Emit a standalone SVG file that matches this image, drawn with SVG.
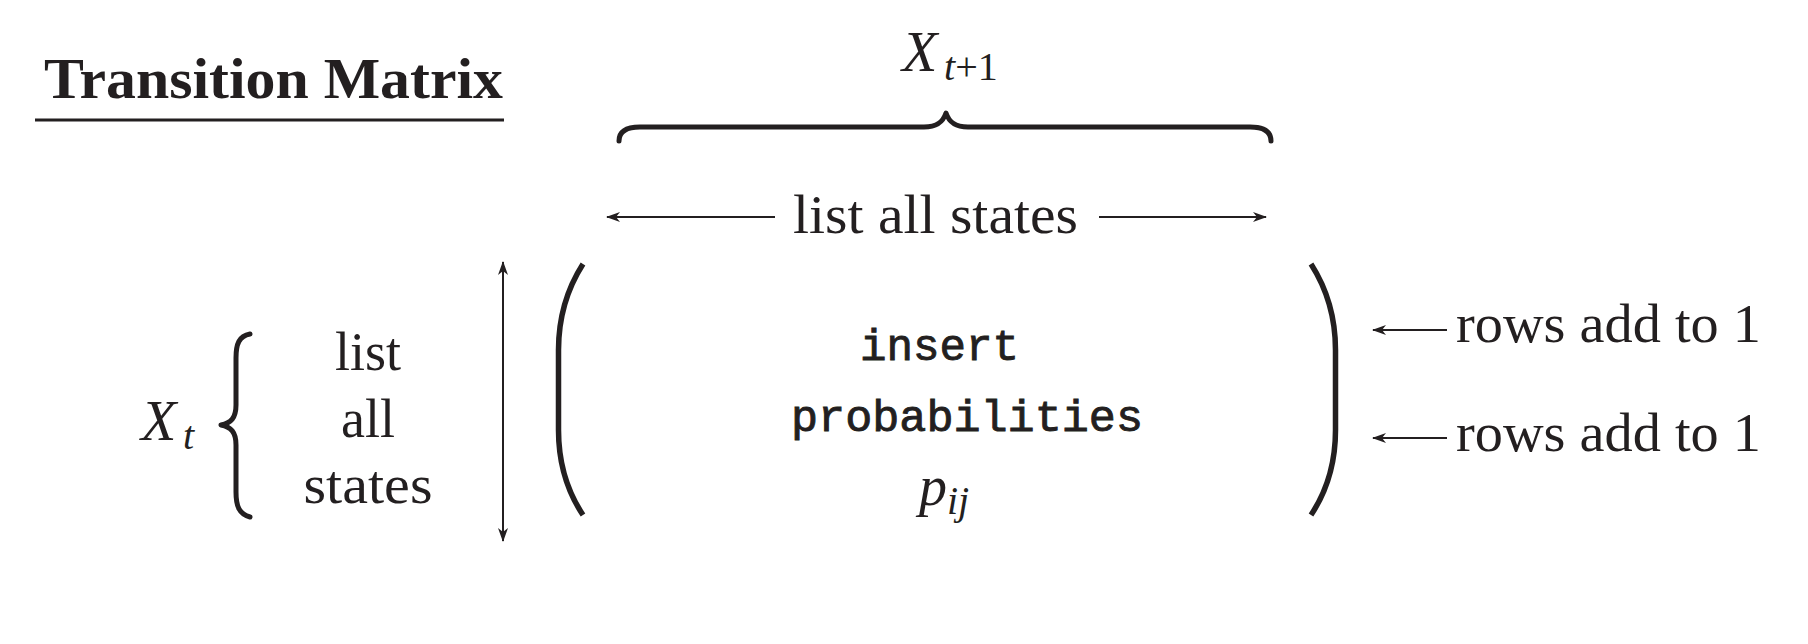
<svg xmlns="http://www.w3.org/2000/svg" width="1808" height="644" viewBox="0 0 1808 644">
<style>
.serif{font-family:"Liberation Serif","Times New Roman",serif;fill:#231f20}
.it{font-family:"Liberation Serif","Times New Roman",serif;font-style:italic;fill:#231f20}
.mono{font-family:"Liberation Mono","Courier New",monospace;fill:#231f20;stroke:#231f20;stroke-width:0.9}
.line{stroke:#231f20;stroke-width:2;fill:none}
.brace{stroke:#231f20;stroke-width:5;fill:none;stroke-linecap:round;stroke-linejoin:round}
.paren{stroke:#231f20;stroke-width:5.5;fill:none;stroke-linecap:butt}
</style>
<defs>
<marker id="ah" viewBox="0 0 14 10" refX="13" refY="5" markerWidth="14" markerHeight="10" markerUnits="userSpaceOnUse" orient="auto-start-reverse">
<path d="M0,0 L14,5 L0,10 L4,5 Z" fill="#231f20"/>
</marker>
</defs>
<rect width="1808" height="644" fill="#ffffff"/>
<g id="title">
<text class="serif" x="44" y="98" font-size="58" font-weight="bold" textLength="459" lengthAdjust="spacingAndGlyphs">Transition Matrix</text>
<line x1="35" y1="120" x2="504" y2="120" stroke="#231f20" stroke-width="3"/>
</g>
<g id="xt1">
<text class="it" x="902" y="71" font-size="58">X</text>
<text class="it" x="944" y="80" font-size="40">t<tspan font-style="normal">+1</tspan></text>
<path class="brace" d="M619,141 C619,131 627,127 640,127 L924,127 C937,127 943,122 946,113 C949,122 955,127 968,127 L1250,127 C1263,127 1271,131 1271,141"/>
</g>
<g id="xt">
<text class="it" x="141" y="440" font-size="58">X</text>
<text class="it" x="183" y="449" font-size="40">t</text>
<path class="brace" d="M250,334 C239,336 236,344 236,358 L236,405 C236,418 231,423 221,425 C231,427 236,432 236,445 L236,492 C236,506 239,514 250,517"/>
</g>
<g id="rowlabels">
<text class="serif" x="368" y="370" font-size="54" text-anchor="middle">list</text>
<text class="serif" x="368" y="437" font-size="54" text-anchor="middle">all</text>
<text class="serif" x="368" y="503" font-size="54" text-anchor="middle" textLength="129" lengthAdjust="spacingAndGlyphs">states</text>
</g>
<g id="collabel">
<text class="serif" x="793" y="233" font-size="54" textLength="285" lengthAdjust="spacingAndGlyphs">list all states</text>
</g>
<g id="matrix">
<path class="paren" d="M583,264 C567,289 558.5,318 558.5,350 L558.5,430 C558.5,462 567,491 583,515"/>
<path class="paren" d="M1311,264 C1327,289 1335.5,318 1335.5,350 L1335.5,430 C1335.5,462 1327,491 1311,515"/>
<text class="mono" x="860" y="360" font-size="45" textLength="159" lengthAdjust="spacingAndGlyphs">insert</text>
<text class="mono" x="791" y="431" font-size="45" textLength="352" lengthAdjust="spacingAndGlyphs">probabilities</text>
<text class="it" x="919" y="505" font-size="56">p</text>
<text class="it" x="947" y="514" font-size="40">ij</text>
</g>
<g id="rownotes">
<text class="serif" x="1456" y="342" font-size="54" textLength="305" lengthAdjust="spacingAndGlyphs">rows add to 1</text>
<text class="serif" x="1456" y="451" font-size="54" textLength="305" lengthAdjust="spacingAndGlyphs">rows add to 1</text>
</g>
<g id="connectors">
<line class="line" x1="775" y1="217" x2="607" y2="217" marker-end="url(#ah)"/>
<line class="line" x1="1099" y1="217" x2="1266" y2="217" marker-end="url(#ah)"/>
<line class="line" x1="503" y1="262" x2="503" y2="541" marker-start="url(#ah)" marker-end="url(#ah)"/>
<line class="line" x1="1447" y1="330" x2="1373" y2="330" marker-end="url(#ah)"/>
<line class="line" x1="1447" y1="438" x2="1373" y2="438" marker-end="url(#ah)"/>
</g>
</svg>
